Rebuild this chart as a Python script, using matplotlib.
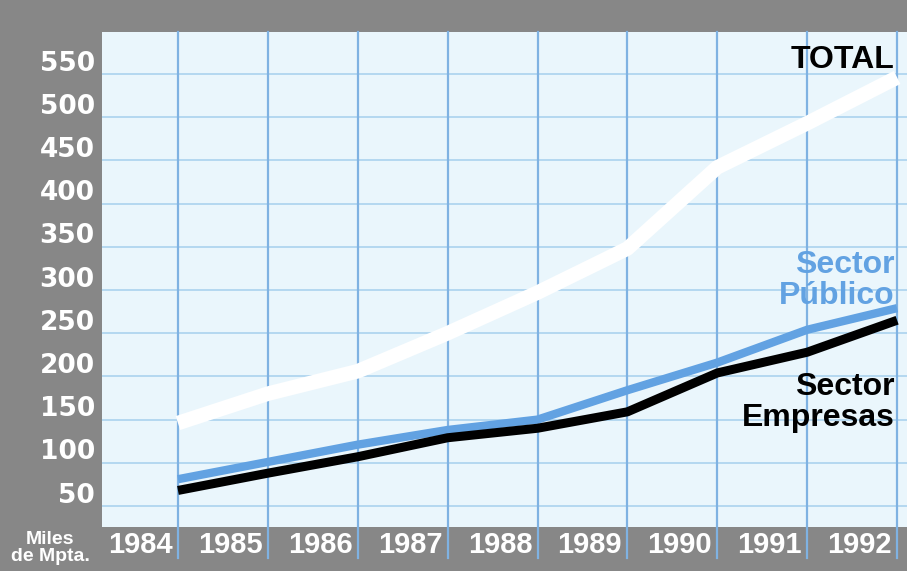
import matplotlib
matplotlib.use("Agg")
import matplotlib.pyplot as plt
import matplotlib.transforms as mtransforms

# datos (miles de Mpta.)
years = [1984, 1985, 1986, 1987, 1988, 1989, 1990, 1991, 1992]
total = [146, 180, 206, 250, 297, 348, 442, 493, 546]
sector_publico = [81, 101, 121, 138, 150, 184, 216, 254, 279]
sector_empresas = [68, 88, 107, 129, 140, 159, 204, 228, 265]
ytick_vals = [50, 100, 150, 200, 250, 300, 350, 400, 450, 500, 550]

GRAY = "#878787"
PANEL = "#eaf6fc"
VGRID = "#7fb2e2"
HGRID = "#b4d8f0"
BLUE = "#62a2e2"

fig = plt.figure(figsize=(9.07, 5.71), dpi=100, facecolor=GRAY)
ax = fig.add_axes([102 / 907, 44 / 571, 805 / 907, 495 / 571])
ax.set_facecolor(PANEL)
ax.set_xlim(1983.155, 1992.11)
ax.set_ylim(25.7, 598.6)
for s in ax.spines.values():
    s.set_visible(False)
ax.set_xticks([])
ax.set_yticks([])

# rejilla
for v in ytick_vals:
    ax.axhline(v, color=HGRID, lw=1.4, zorder=1)
for yr in years:
    ax.axvline(yr, ymin=-0.062, ymax=1, color=VGRID, lw=1.6, zorder=1, clip_on=False)

# series
ax.plot(years, total, color="white", lw=10.5, solid_capstyle="butt",
        solid_joinstyle="round", zorder=3)
ax.plot(years, sector_publico, color=BLUE, lw=6, solid_capstyle="butt",
        solid_joinstyle="round", zorder=4)
ax.plot(years, sector_empresas, color="black", lw=6.5, solid_capstyle="butt",
        solid_joinstyle="round", zorder=5)

# etiquetas eje y
trans_y = mtransforms.blended_transform_factory(ax.transAxes, ax.transData)
for v in ytick_vals:
    ax.text(-0.009, v - 3, str(v), transform=trans_y, ha="right", va="bottom",
            color="white", fontsize=19, fontweight="bold", family="DejaVu Sans")

# etiquetas eje x
trans_x = mtransforms.blended_transform_factory(ax.transData, ax.transAxes)
for yr in years:
    ax.text(yr - 0.06, -0.037, str(yr), transform=trans_x, ha="right", va="center",
            color="white", fontsize=21, fontweight="bold", family="Liberation Sans")

fig.text(50 / 907, 1 - 548 / 571, "Miles\nde Mpta.", ha="center", va="center",
         color="white", fontsize=14, fontweight="bold", family="Liberation Sans",
         linespacing=0.95)

# rotulos de las series
lab = dict(ha="right", va="center", fontsize=23, fontweight="bold",
           family="Liberation Sans")
ax.text(1991.97, 566, "TOTAL", color="black", **lab)
ax.text(1991.97, 311, "Sector\nPúblico", color=BLUE, linespacing=1.05, **lab)
ax.text(1991.97, 170, "Sector\nEmpresas", color="black", linespacing=1.05, **lab)

fig.savefig("out.png", dpi=100, facecolor=GRAY)
